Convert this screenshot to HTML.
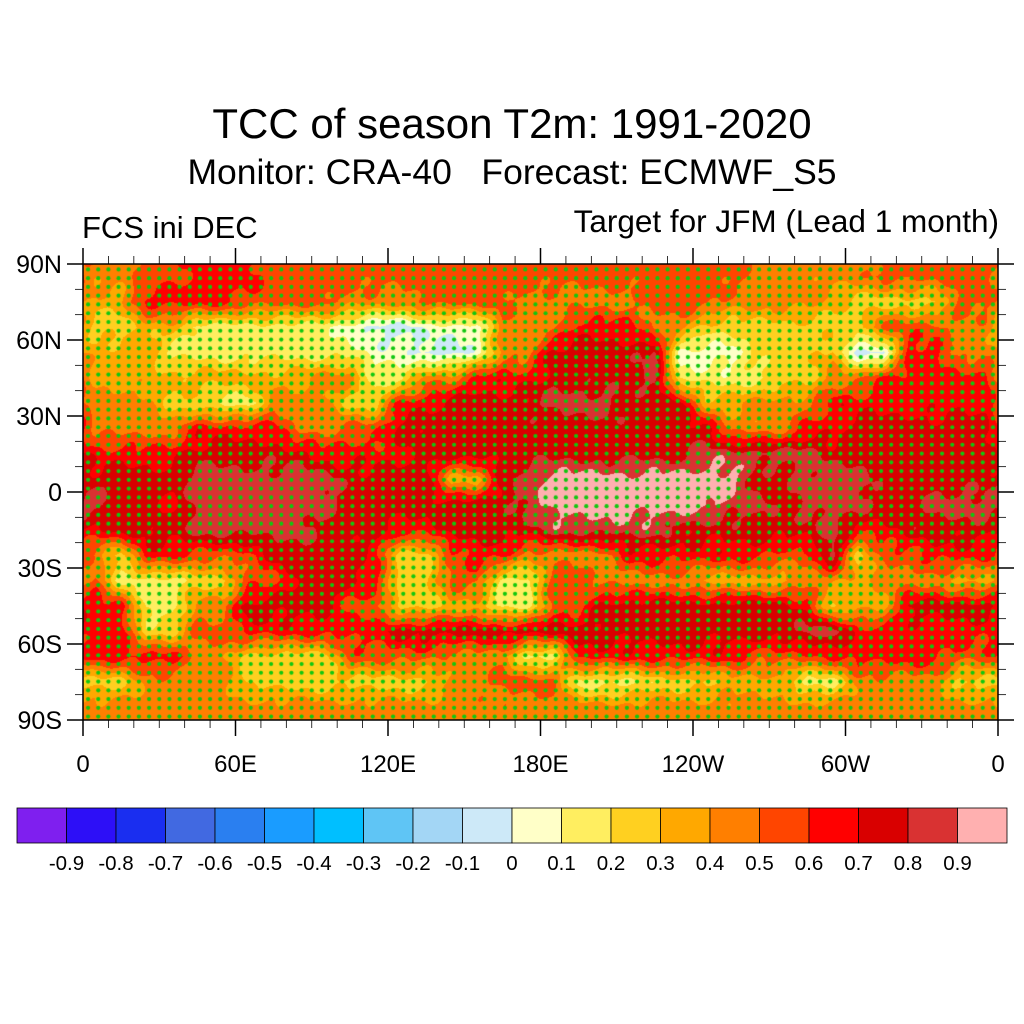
<!DOCTYPE html>
<html><head><meta charset="utf-8"><style>
body{margin:0;background:#fff;}
#wrap{position:relative;width:1024px;height:1024px;overflow:hidden;font-family:"Liberation Sans",sans-serif;color:#000;}
.t{position:absolute;white-space:nowrap;}
</style></head><body>
<div id="wrap">
<div class="t" style="left:0;width:1024px;text-align:center;top:100px;font-size:42px;">TCC of season T2m: 1991-2020</div>
<div class="t" style="left:0;width:1024px;text-align:center;top:152px;font-size:35.5px;">Monitor: CRA-40&nbsp;&nbsp;&nbsp;Forecast: ECMWF_S5</div>
<div class="t" style="left:82px;top:210px;font-size:31px;">FCS ini DEC</div>
<div class="t" style="right:25px;top:203px;font-size:31.5px;">Target for JFM (Lead 1 month)</div>
<canvas id="map" width="915" height="456" style="position:absolute;left:83px;top:264px;"></canvas>
<svg id="ax" width="1024" height="1024" style="position:absolute;left:0;top:0;"></svg>
</div>
<script>
const levelColors=["#7f1fef","#2d0ff7","#1a2ef0","#4169e1","#2a7ff0","#1a9cff","#00bfff","#5fc5f5","#a3d6f5","#cde9f8","#ffffc8","#ffee60","#ffd020","#ffa800","#ff7f00","#ff4500","#ff0000","#d90000","#d93232","#ffb0b0"];
const cbLabels=["-0.9","-0.8","-0.7","-0.6","-0.5","-0.4","-0.3","-0.2","-0.1","0","0.1","0.2","0.3","0.4","0.5","0.6","0.7","0.8","0.9"];
const latLabels=["90N","60N","30N","0","30S","60S","90S"];
const latTicks=[90,60,30,0,-30,-60,-90];
const lonLabels=["0","60E","120E","180E","120W","60W","0"];
const lonTicks=[0,60,120,180,240,300,360];
// rows: lat 90..-90 in 10 deg bands, 36 cols lon 0..360; char = level (a=-0.1..0, 0..9 = 0..1)
const tccRows=[
"445566655555555555555555554444455555",
"336666555544455554444455544443222255",
"2233111111"+"0aa000444666442222222555"+"44",
"33311111111"+"00aa0447777800022"+"23aa6644",
"33333333344114466677778111122"+"4466666",
"44422114442266777788877733444"+"6666666",
"444466664455777777777777744466777777",
"666677777666677777777777888887777777",
"777788888877773378999999997788877777",
"877688888877777778999999988788877888",
"677788888777667777888887777778667777",
"426655577776225664444666666558255666",
"511122557776225511554444333344344433",
"661144777755223311557777777762337777",
"662255666666777777777777777788666666",
"666644222255554441166666665556666655",
"224444222222224455511122233311444422",
"444444444444444444444444444444444444"];

const X0=83,Y0=264,W=915,H=456;
function xOf(lon){return X0+lon/360*W;}
function yOf(lat){return Y0+(90-lat)/180*H;}
function lev(ch){return ch==='a'?9:10+parseInt(ch);}

const cv=document.getElementById('map'),ctx=cv.getContext('2d');
const img=ctx.createImageData(W,H);
const rgb=levelColors.map(c=>[parseInt(c.substr(1,2),16),parseInt(c.substr(3,2),16),parseInt(c.substr(5,2),16)]);
const nr=tccRows.length,nc=36;
function val(r,c){r=Math.max(0,Math.min(nr-1,r));c=(c+nc)%nc;return lev(tccRows[r][c]);}
for(let py=0;py<H;py++){
  const fr=(py+0.5)/H*nr-0.5;const r0=Math.floor(fr),tr=fr-r0;
  for(let px=0;px<W;px++){
    const fc=(px+0.5)/W*nc-0.5;const c0=Math.floor(fc),tc=fc-c0;
    const v=(val(r0,c0)*(1-tc)+val(r0,c0+1)*tc)*(1-tr)+(val(r0+1,c0)*(1-tc)+val(r0+1,c0+1)*tc)*tr;
    const n=Math.sin(px*0.21+py*0.13)*0.25+Math.sin(px*0.07-py*0.19)*0.25;
    let k=Math.round(v+n);k=Math.max(0,Math.min(19,k));
    const i=(py*W+px)*4;img.data[i]=rgb[k][0];img.data[i+1]=rgb[k][1];img.data[i+2]=rgb[k][2];img.data[i+3]=255;
  }
}
ctx.putImageData(img,0,0);
ctx.fillStyle="#10c810";
const dsx=W/90, dsy=H/52;
for(let y=dsy/2+1;y<H;y+=dsy){for(let x=dsx/2;x<W;x+=dsx){ctx.beginPath();ctx.arc(x,y,2.1,0,Math.PI*2);ctx.fill();}}

const svg=document.getElementById('ax');const NS="http://www.w3.org/2000/svg";
function mk(tag,attrs,name){const e=document.createElementNS(NS,tag);for(const k in attrs)e.setAttribute(k,attrs[k]);


svg.appendChild(e);return e;}
mk('rect',{x:X0,y:Y0,width:W,height:H,fill:'none',stroke:'#000','stroke-width':1.5},'map-frame');
for(let lat=-90;lat<=90;lat+=10){const maj=lat%30===0;const L=maj?16:8;const y=yOf(lat);
 mk('line',{x1:X0-L,x2:X0,y1:y,y2:y,stroke:'#000','stroke-width':maj?1.5:0.8},'y-tick-left');
 mk('line',{x1:X0+W,x2:X0+W+L,y1:y,y2:y,stroke:'#000','stroke-width':maj?1.5:0.8},'y-tick-right');}
for(let lon=0;lon<=360;lon+=10){const maj=lon%60===0;const L=maj?16:8;const x=xOf(lon);
 mk('line',{x1:x,x2:x,y1:Y0+H,y2:Y0+H+L,stroke:'#000','stroke-width':maj?1.5:0.8},'x-tick-bottom');
 mk('line',{x1:x,x2:x,y1:Y0-L,y2:Y0,stroke:'#000','stroke-width':maj?1.5:0.8},'x-tick-top');}
latTicks.forEach((lat,i)=>{const t=mk('text',{x:62,y:yOf(lat)+9,'text-anchor':'end','font-size':25,'font-family':'Liberation Sans'},'y-tick-label');t.textContent=latLabels[i];});
lonTicks.forEach((lon,i)=>{const t=mk('text',{x:xOf(lon),y:772,'text-anchor':'middle','font-size':24,'font-family':'Liberation Sans'},'x-tick-label');t.textContent=lonLabels[i];});
const cbX=17,cbW=990,cbY=808,cbH=35,bw=cbW/levelColors.length;
levelColors.forEach((c,i)=>{mk('rect',{x:cbX+i*bw,y:cbY,width:bw,height:cbH,fill:c,stroke:'#000','stroke-width':0.8},'colorbar-box');});
cbLabels.forEach((s,i)=>{const t=mk('text',{x:cbX+(i+1)*bw,y:870,'text-anchor':'middle','font-size':20.5,'font-family':'Liberation Sans'},'colorbar-label');t.textContent=s;});
</script>
</body></html>
